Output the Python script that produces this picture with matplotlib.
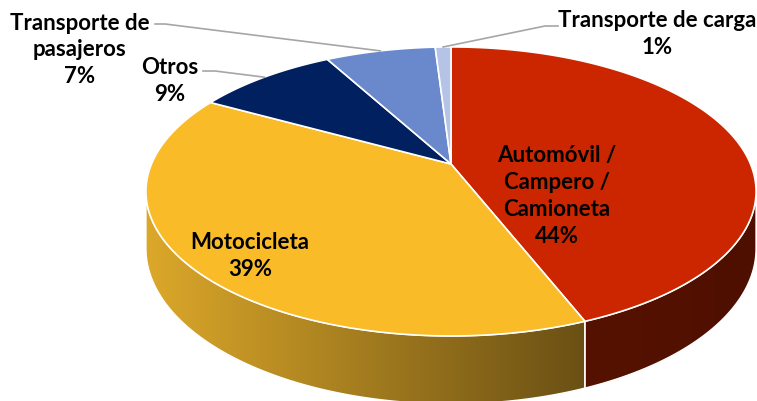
import numpy as np
import matplotlib.pyplot as plt
from matplotlib.patches import Polygon

plt.rcParams['font.family'] = ['Lato', 'DejaVu Sans']

# --- datos ---
labels = ['Automóvil /\nCampero /\nCamioneta', 'Motocicleta', 'Otros',
          'Transporte de\npasajeros', 'Transporte de carga']
values = [44, 39, 9, 7, 1]
colors = ['#CC2600', '#F9BC28', '#002060', '#6A89CC', '#B4C3E6']
side_colors = [('#561200', '#4E0F00'), ('#DCA82A', '#6A5014'),
               ('#001540', '#001030'), ('#4A609A', '#3A4C80'), ('#8090B0', '#707FA0')]

# --- geometria (pixeles) ---
W, H = 757, 402
cx, cy = 451, 165
a, b, k = 299.5, 139.3, 0.19   # semiejes y perspectiva
d0 = 55                        # grosor


def proj(theta, drop=False):
    t = np.radians(theta)
    u, v = np.cos(t), np.sin(t)
    w = 1 + k * v
    x = cx + a * u / w
    y = cy - b * v / w
    if drop:
        y = y + d0 / w
    return x, y


fig = plt.figure(figsize=(W / 100, H / 100), dpi=100)
ax = fig.add_axes([0, 0, 1, 1])
ax.set_xlim(0, W)
ax.set_ylim(H, 0)
ax.axis('off')

# angulos de cada porcion (sentido horario desde las 12)
fr = np.array(values) / sum(values)
ends = 90 - 360 * np.cumsum(fr)
starts = np.concatenate([[90], ends[:-1]])

# --- paredes laterales ---
th_r = -np.degrees(np.arcsin(k))
th_l = -180 + np.degrees(np.arcsin(k))
for i in range(len(values)):
    hi = min(starts[i], th_r)
    lo = max(ends[i], th_l)
    if hi <= lo:
        continue
    th = np.linspace(hi, lo, 200)
    xt, yt = proj(th)
    xb, yb = proj(th[::-1], drop=True)
    pts = np.column_stack([np.concatenate([xt, xb]), np.concatenate([yt, yb])])
    poly = Polygon(pts, closed=True, facecolor='none', edgecolor='white', lw=1.0, zorder=2)
    ax.add_patch(poly)
    c1 = np.array(plt.matplotlib.colors.to_rgb(side_colors[i][0]))
    c2 = np.array(plt.matplotlib.colors.to_rgb(side_colors[i][1]))
    x0, x1 = pts[:, 0].min(), pts[:, 0].max()
    y0, y1 = pts[:, 1].min(), pts[:, 1].max()
    tt = np.linspace(0, 1, 256)
    grad = (c1[None, :] * (1 - tt[:, None]) + c2[None, :] * tt[:, None])[None, :, :]
    im = ax.imshow(grad, extent=[x0, x1, y1, y0], aspect='auto', zorder=1)
    im.set_clip_path(poly)

# --- tapa superior ---
for i in range(len(values)):
    th = np.linspace(starts[i], ends[i], 200)
    xs, ys = proj(th)
    pts = np.column_stack([np.concatenate([[cx], xs]), np.concatenate([[cy], ys])])
    ax.add_patch(Polygon(pts, closed=True, facecolor=colors[i], edgecolor='white',
                         lw=1.2, zorder=3))

mids = (starts + ends) / 2
fs = 16
ls = 1.35

# etiquetas dentro
ax.text(557, 196, labels[0] + f'\n{values[0]}%', ha='center', va='center',
        fontsize=fs, fontweight='bold', linespacing=ls, zorder=5)
ax.text(250, 256, labels[1] + f'\n{values[1]}%', ha='center', va='center',
        fontsize=fs, fontweight='bold', linespacing=ls, zorder=5)

# etiquetas fuera con lineas guia
outside = [(2, (170, 81), [(215, 72), (203, 72)]),
           (3, (80, 50), [(165, 25), (155, 25)]),
           (4, (657, 34), [(545, 27), (558, 27)])]
for i, pos, path in outside:
    ex, ey = proj(mids[i])
    xs = [float(ex)] + [p[0] for p in path]
    ys = [float(ey)] + [p[1] for p in path]
    ax.plot(xs, ys, color='#A6A6A6', lw=1.2, zorder=4)
    ax.text(pos[0], pos[1], labels[i] + f'\n{values[i]}%', ha='center', va='center',
            fontsize=fs, fontweight='bold', linespacing=ls, zorder=5)

fig.savefig('out.png', dpi=100)
